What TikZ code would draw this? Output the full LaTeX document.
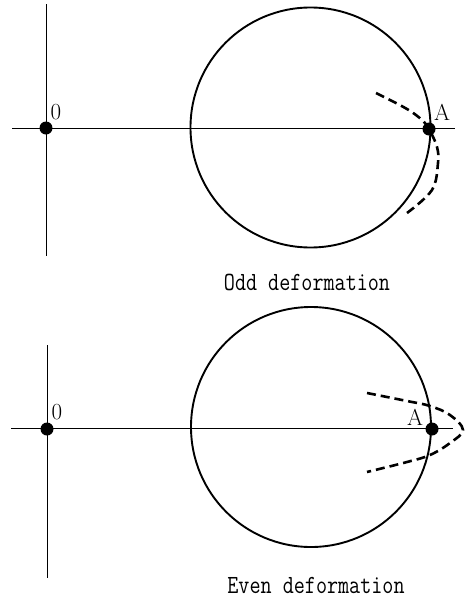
\documentclass[tikz,border=0pt]{standalone}
\usepackage{fontspec}
\usepackage{graphicx}
\newcommand{\tallcap}[1]{\scalebox{1}[1.22]{#1}}
\begin{document}
\begin{tikzpicture}[x=1pt,y=-1pt,
  axis/.style={line width=1pt},
  ring/.style={line width=1.9pt},
  dashcurve/.style={line width=2.6pt,dash pattern=on 9pt off 5pt},
  dot/.style={circle,fill=black,inner sep=0pt,minimum size=13pt},
  lbl/.style={inner sep=0pt,font=\fontsize{23}{26}\selectfont},
  captiontext/.style={inner sep=0pt,font=\fontsize{21.5}{24}\ttfamily}]
\useasboundingbox (0,0) rectangle (465,600);
% ---------- top panel ----------
\coordinate (t1) at (46,4);
\coordinate (t2) at (46,256);
\coordinate (h1) at (12,128);
\coordinate (h2) at (455,128);
\draw[axis] (t1) -- (t2);
\draw[axis] (h1) -- (h2);
\node[circle,draw,ring,minimum size=240pt,inner sep=0pt] (C1) at (310.5,127.5) {};
\node[dot] (O1) at (46,128) {};
\node[dot] (A1) at (429,129) {};
\node[lbl] (lO1) at (56,112) {0};
\node[lbl] (lA1) at (442,112) {A};
\draw[dashcurve] plot[smooth,tension=0.6] coordinates
  {(376,93) (407,109) (423,121) (430,131) (437,147) (438,163) (432,190) (407,213)};
\node[captiontext] (cap1) at (307,282) {\tallcap{Odd deformation}};
% ---------- bottom panel ----------
\coordinate (t3) at (47,345);
\coordinate (t4) at (47,578);
\coordinate (h3) at (11,428.5);
\coordinate (h4) at (453,428.5);
\draw[axis] (t3) -- (t4);
\draw[axis] (h3) -- (h4);
\node[circle,draw,ring,minimum size=240pt,inner sep=0pt] (C2) at (311,427) {};
\node[dot] (O2) at (47,429) {};
\node[dot] (A2) at (432,429) {};
\node[lbl] (lO2) at (57,412) {0};
\node[lbl] (lA2) at (415,417) {A};
\draw[dashcurve] plot[smooth,tension=0.6] coordinates
  {(367,393) (407,401) (430,406) (450,415) (463,430) (450,443) (430,455) (407,462) (367,472)};
\node[captiontext] (cap2) at (316,585) {\tallcap{Even deformation}};
\end{tikzpicture}
\end{document}
